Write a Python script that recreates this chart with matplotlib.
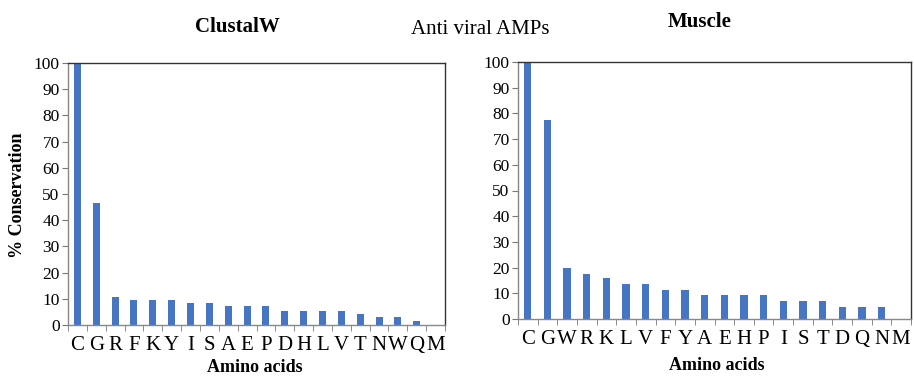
import matplotlib
matplotlib.use("Agg")
import matplotlib.pyplot as plt
from matplotlib.ticker import FixedLocator, NullFormatter

plt.rcParams['font.family'] = ['Liberation Serif', 'DejaVu Serif']

left_labels = ['C', 'G', 'R', 'F', 'K', 'Y', 'I', 'S', 'A', 'E', 'P', 'D', 'H', 'L', 'V', 'T', 'N', 'W', 'Q', 'M']
left_values = [100, 46.5, 10.8, 9.5, 9.5, 9.5, 8.5, 8.5, 7.3, 7.3, 7.3, 5.5, 5.5, 5.5, 5.5, 4.3, 3.0, 3.0, 1.4, 0]

right_labels = ['C', 'G', 'W', 'R', 'K', 'L', 'V', 'F', 'Y', 'A', 'E', 'H', 'P', 'I', 'S', 'T', 'D', 'Q', 'N', 'M']
right_values = [100, 77.6, 20.0, 17.6, 15.9, 13.5, 13.5, 11.2, 11.2, 9.4, 9.4, 9.4, 9.4, 6.9, 6.9, 6.9, 4.5, 4.5, 4.5, 0]

yticks = [0, 10, 20, 30, 40, 50, 60, 70, 80, 90, 100]

W, H = 914, 377
fig = plt.figure(figsize=(W / 100, H / 100), dpi=100)

bar_color = '#4676C3'
frame_color = '#333333'


def make_panel(rect, labels, values, title, title_xy):
    ax = fig.add_axes(rect)
    x = list(range(len(labels)))
    ax.bar(x, values, width=0.37, color=bar_color, zorder=2)
    ax.set_xlim(-0.5, len(labels) - 0.5)
    ax.set_ylim(0, 100)
    ax.set_yticks(yticks)
    ax.set_yticklabels([str(v) for v in yticks], fontsize=12.5)
    ax.set_xticks(x)
    ax.set_xticklabels(labels, fontsize=15)
    ax.tick_params(axis='x', which='major', length=0, pad=8)
    ax.xaxis.set_minor_locator(FixedLocator([i - 0.5 for i in range(len(labels) + 1)]))
    ax.xaxis.set_minor_formatter(NullFormatter())
    ax.tick_params(axis='x', which='minor', length=4, color='#777777', direction='out')
    ax.tick_params(axis='y', length=4, color='#777777', direction='out', pad=2)
    for s in ax.spines.values():
        s.set_color(frame_color)
        s.set_linewidth(1.0)
    ax.spines['bottom'].set_color('#888888')
    ax.spines['left'].set_color('#888888')
    fig.text(title_xy[0] / W, 1 - title_xy[1] / H, title, ha='center', va='center',
             fontsize=15, fontweight='bold')
    return ax


axL = make_panel([68 / W, 1 - 325 / H, (445 - 68) / W, (325 - 63) / H],
                 left_labels, left_values, 'ClustalW', (237, 27))
axR = make_panel([518 / W, 1 - 319 / H, (911 - 518) / W, (319 - 62) / H],
                 right_labels, right_values, 'Muscle', (700, 22))

fig.text(480 / W, 1 - 30 / H, 'Anti viral AMPs', ha='center', va='center', fontsize=15)
fig.text(18 / W, 1 - 195 / H, '% Conservation', ha='center', va='center',
         rotation=90, fontsize=13, fontweight='bold')
fig.text(255 / W, 1 - 367 / H, 'Amino acids', ha='center', va='center',
         fontsize=13, fontweight='bold')
fig.text(717 / W, 1 - 366 / H, 'Amino acids', ha='center', va='center',
         fontsize=13, fontweight='bold')

fig.savefig('out.png', dpi=100)
